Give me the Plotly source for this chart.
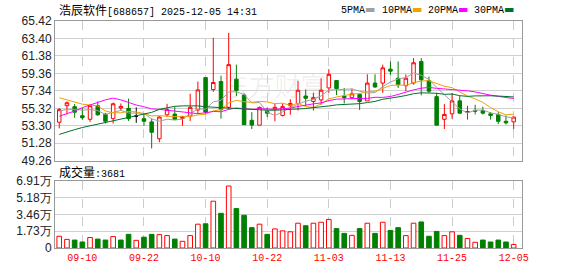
import plotly.graph_objects as go
import pandas as pd

dates = ["09-05", "09-08", "09-09", "09-10", "09-11", "09-12", "09-15", "09-16", "09-17", "09-18",
         "09-19", "09-22", "09-23", "09-24", "09-25", "09-26", "09-29", "09-30", "10-09", "10-10",
         "10-13", "10-14", "10-15", "10-16", "10-17", "10-20", "10-21", "10-22", "10-23", "10-24",
         "10-27", "10-28", "10-29", "10-30", "10-31", "11-03", "11-04", "11-05", "11-06", "11-07",
         "11-10", "11-11", "11-12", "11-13", "11-14", "11-17", "11-18", "11-19", "11-20", "11-21",
         "11-24", "11-25", "11-26", "11-27", "11-28", "12-01", "12-02", "12-03", "12-04", "12-05"]

opens = [53.71, 55.62, 55.51, 54.46, 54.05, 55.62, 54.61, 54.12, 55.36, 55.32,
         54.42, 54.12, 53.75, 51.80, 54.57, 54.65, 54.16, 54.42, 55.13, 58.87,
         57.49, 58.42, 55.43, 58.69, 56.85, 53.93, 53.37, 54.95, 55.24, 54.50,
         55.62, 55.88, 56.74, 56.11, 56.29, 57.68, 58.54, 56.74, 56.55, 56.93,
         56.18, 58.24, 58.24, 59.85, 58.80, 57.94, 58.24, 60.74, 58.54, 56.67,
         54.05, 54.68, 56.18, 54.83, 55.08, 55.06, 54.68, 54.61, 53.82, 53.75]
highs = [55.36, 56.11, 55.81, 55.36, 55.73, 56.11, 54.80, 55.99, 55.88, 56.44,
         55.43, 54.68, 54.12, 54.42, 55.84, 55.51, 54.38, 57.00, 58.42, 58.87,
         63.47, 59.10, 64.04, 60.37, 57.04, 54.87, 55.51, 55.43, 55.88, 55.88,
         56.37, 58.50, 57.49, 57.11, 58.80, 59.85, 58.54, 57.68, 57.60, 57.04,
         59.25, 59.25, 60.37, 60.74, 60.74, 59.25, 61.12, 61.12, 58.99, 57.11,
         55.81, 57.11, 56.74, 55.62, 55.73, 55.51, 54.87, 54.87, 54.50, 54.31]
lows = [53.00, 54.61, 54.23, 54.01, 53.75, 54.46, 53.56, 53.56, 55.06, 53.86,
        53.64, 53.30, 50.68, 51.39, 54.31, 54.01, 53.30, 53.86, 54.68, 54.68,
        57.23, 54.12, 55.13, 56.74, 53.42, 52.93, 53.37, 54.31, 53.82, 54.38,
        54.57, 55.06, 55.62, 55.06, 55.73, 57.11, 56.85, 55.88, 56.37, 55.13,
        56.18, 57.68, 57.11, 59.17, 57.68, 57.30, 58.05, 56.82, 57.11, 53.37,
        52.93, 54.12, 54.68, 54.01, 54.61, 54.61, 54.01, 53.49, 53.45, 52.93]
closes = [55.17, 55.96, 54.87, 54.23, 55.62, 54.57, 53.82, 55.84, 55.54, 54.12,
          54.42, 53.82, 52.55, 54.31, 55.17, 54.01, 54.31, 55.43, 57.45, 54.87,
          58.31, 55.17, 60.37, 57.38, 53.42, 53.38, 55.43, 54.76, 55.43, 55.51,
          55.88, 57.41, 56.48, 56.55, 57.41, 59.25, 57.60, 56.55, 57.00, 56.11,
          58.24, 57.79, 60.00, 59.62, 58.05, 58.80, 60.59, 58.61, 57.30, 53.37,
          54.61, 56.18, 54.76, 54.95, 54.99, 54.76, 54.50, 53.82, 53.64, 54.31]
volumes = [12100, 8900, 8200, 6200, 10800, 9200, 8200, 11800, 8200, 14100,
           7900, 11200, 14100, 13800, 12800, 9200, 6900, 12800, 24600, 25000,
           48300, 35800, 64000, 40700, 33800, 21000, 24600, 14100, 19700, 17700,
           16700, 25600, 23000, 25600, 26600, 29500, 20000, 15100, 13100, 20000,
           25600, 15100, 26600, 18100, 21000, 12800, 25600, 26900, 12100, 17100,
           12800, 16700, 13100, 9800, 5900, 8200, 6200, 8200, 6200, 3681]

# MA values at the start of the window (they depend on sessions before it)
ma5_lead = [55.0, 55.2, 55.2, 55.1]
ma10_lead = [56.55, 56.3, 56.0, 55.8, 55.7, 55.6, 55.0, 54.8, 54.8]
ma20_lead = [54.4, 54.7, 55.0, 55.4, 55.7, 56.0, 56.3, 56.5, 56.3, 56.0,
             55.7, 55.5, 55.25, 55.2, 55.1, 55.0, 54.85, 54.75, 54.7]
ma30_lead = [52.3, 52.6, 52.85, 53.1, 53.3, 53.5, 53.7, 53.9, 54.1, 54.3,
             54.5, 54.65, 54.85, 55.2, 55.4, 55.55, 55.6, 55.6, 55.6, 55.5,
             55.45, 55.4, 55.35, 55.3, 55.25, 55.15, 55.1, 55.1, 55.1]

tick_dates = ["09-10", "09-22", "10-10", "10-22", "11-03", "11-13", "11-25", "12-05"]
price_ticks = [49.26, 51.28, 53.30, 55.32, 57.34, 59.36, 61.38, 63.40, 65.42]
vol_ticks = [0, 17300, 34600, 51800, 69100]
vol_tick_text = ["0", "1.73万", "3.46万", "5.18万", "6.91万"]

title_name = "浩辰软件"
title_rest = "[688657] 2025-12-05 14:31"
ma_names = ["5PMA", "10PMA", "20PMA", "30PMA"]

RED = "#ff0000"
GREEN = "#008000"
MA_COLORS = ["#a0a0a0", "#f2a100", "#ff00ff", "#00702e"]

n = len(dates)
cs = pd.Series(closes)


def ma(k, lead):
    return lead + list(cs.rolling(k).mean().iloc[k - 1:])


mas = [ma(5, ma5_lead), ma(10, ma10_lead), ma(20, ma20_lead), ma(30, ma30_lead)]


def sub(arr, idx):
    return [arr[i] for i in idx]


fig = go.Figure()

groups = [
    ([i for i in range(n) if closes[i] > opens[i]], RED, "white"),
    ([i for i in range(n) if closes[i] < opens[i]], GREEN, GREEN),
    ([i for i in range(n) if closes[i] == opens[i]], "#000000", "#000000"),
]
for idx, lc, fc in groups:
    if not idx:
        continue
    style = dict(line=dict(color=lc, width=1), fillcolor=fc)
    fig.add_trace(go.Candlestick(
        x=sub(dates, idx), open=sub(opens, idx), high=sub(highs, idx),
        low=sub(lows, idx), close=sub(closes, idx),
        increasing=style, decreasing=style, whiskerwidth=0,
        showlegend=False, hoverinfo="skip", xaxis="x", yaxis="y"))

for vals, col in zip(mas, MA_COLORS):
    fig.add_trace(go.Scatter(x=dates, y=vals, mode="lines",
                             line=dict(color=col, width=1),
                             showlegend=False, hoverinfo="skip",
                             xaxis="x", yaxis="y"))

vol_up = [(closes[i] >= (closes[i - 1] if i > 0 else opens[i])) for i in range(n)]
fig.add_trace(go.Bar(
    x=dates, y=volumes, width=0.6,
    marker=dict(color=["white" if u else GREEN for u in vol_up],
                line=dict(color=[RED if u else GREEN for u in vol_up], width=1)),
    showlegend=False, hoverinfo="skip", xaxis="x2", yaxis="y2"))

L, R, T, B = 55, 56, 21, 21
W, H = 578, 276
pw, ph = W - L - R, H - T - B


def px(x):
    return (x - L) / pw


def py(y):
    return (H - B - y) / ph


axis_common = dict(showline=True, mirror=True, linecolor="#999999", linewidth=1,
                   zeroline=False, ticks="")
xcommon = dict(type="category", categoryorder="array", categoryarray=dates,
               range=[-0.55, 60.08], tickvals=tick_dates, showgrid=True,
               gridcolor="#cccccc", griddash="dash", gridwidth=1,
               rangeslider=dict(visible=False), fixedrange=True, **axis_common)

fig.update_layout(
    width=W, height=H, margin=dict(l=L, r=R, t=T, b=B),
    paper_bgcolor="white", plot_bgcolor="white",
    boxgap=0.35, bargap=0.4,
    xaxis=dict(domain=[0, 1], anchor="y", showticklabels=False, **xcommon),
    xaxis2=dict(domain=[0, 1], anchor="y2", showticklabels=True,
                tickfont=dict(family="Liberation Mono", size=10, color=RED), **xcommon),
    yaxis=dict(domain=[py(165), 1], anchor="x", range=[49.26, 65.42],
               tickvals=price_ticks, ticktext=["%.2f" % v for v in price_ticks],
               showgrid=True, gridcolor="#d0d0d0",
               tickfont=dict(family="Liberation Sans", size=12, color="#222222"),
               **axis_common),
    yaxis2=dict(domain=[0, py(186)], anchor="x2", range=[0, 69100],
                tickvals=vol_ticks, ticktext=vol_tick_text,
                showgrid=True, gridcolor="#d0d0d0",
                tickfont=dict(family="Liberation Sans", size=12, color="#222222"),
                **axis_common),
    showlegend=False,
)

annotations = [
    dict(xref="paper", yref="paper", x=px(57), y=py(9), xanchor="left", yanchor="middle",
         text=f"<span style='font-family:Noto Sans CJK SC;font-size:12px'>{title_name}</span>{title_rest}",
         showarrow=False, font=dict(family="Liberation Mono", size=10, color="#000000")),
    dict(xref="paper", yref="paper", x=px(57), y=py(176), xanchor="left", yanchor="middle",
         text=f"<span style='font-family:Noto Sans CJK SC;font-size:12px'>成交量</span>:{volumes[-1]}",
         showarrow=False, font=dict(family="Liberation Mono", size=10, color="#000000")),
]
legend_x = [339, 380, 426, 472]
for name, col, lx in zip(ma_names, MA_COLORS, legend_x):
    annotations.append(dict(
        xref="paper", yref="paper", x=px(lx), y=py(9), xanchor="left", yanchor="middle",
        text=f"{name}<span style='color:{col};font-size:11px;font-family:DejaVu Sans'>▬</span>",
        showarrow=False, font=dict(family="Liberation Mono", size=10, color="#000000")))
fig.update_layout(annotations=annotations)

fig.add_shape(type="rect", xref="x domain", yref="y domain",
              x0=0.30, x1=0.64, y0=0.36, y1=0.68, layer="below",
              line=dict(width=0), fillcolor="rgba(0,0,0,0)",
              label=dict(text="东方财富", textposition="middle center",
                         font=dict(family="Noto Sans CJK SC", size=26,
                                   color="rgba(0,0,0,0.07)")))

fig.write_html("out.html")
